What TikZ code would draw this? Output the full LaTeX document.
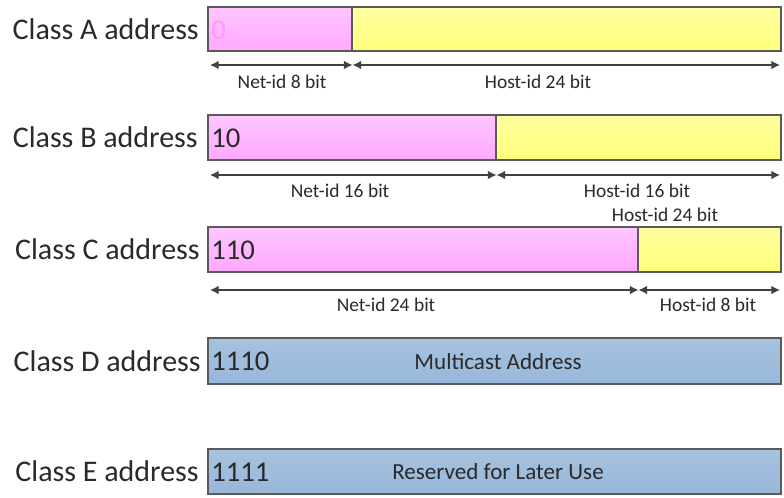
\documentclass[tikz,border=0pt]{standalone}
\usepackage{fontspec}
\setmainfont{Carlito}
\usetikzlibrary{arrows.meta,shadows}
\definecolor{pinktop}{HTML}{FFC6FF}
\definecolor{pinkbot}{HTML}{FFA8FF}
\definecolor{yeltop}{HTML}{FFFFA0}
\definecolor{yelbot}{HTML}{FFFF7C}
\definecolor{bluetop}{HTML}{A6C2DF}
\definecolor{bluebot}{HTML}{98B7D9}
\definecolor{edge}{HTML}{5A5A5A}
\definecolor{arr}{HTML}{404040}
\definecolor{txt}{HTML}{2A2A2A}
\definecolor{zeropink}{HTML}{FF99FF}
\tikzset{
  field/.style={draw=edge, line width=0.9pt, rectangle, inner sep=0pt, outer sep=0pt,
    drop shadow={shadow xshift=0.8pt, shadow yshift=-1pt, opacity=0.2}},
  pinkfield/.style={field, top color=pinktop, bottom color=pinkbot},
  yelfield/.style={field, top color=yeltop, bottom color=yelbot},
  bluefield/.style={field, top color=bluetop, bottom color=bluebot},
  classlbl/.style={anchor=east, inner sep=0pt, text=txt, font=\fontsize{22.5}{26}\selectfont},
  bits/.style={anchor=west, inner sep=0pt, text=txt, font=\fontsize{21.5}{26}\selectfont},
  small/.style={inner sep=0pt, text=txt, font=\fontsize{14.6}{17}\selectfont},
  mid/.style={inner sep=0pt, text=txt, font=\fontsize{17.3}{20}\selectfont},
  dim/.style={draw=arr, line width=1pt, {Latex[length=6.5pt,width=6.5pt]}-{Latex[length=6.5pt,width=6.5pt]}}
}
\begin{document}
\begin{tikzpicture}[x=0.75pt,y=-0.75pt]
\useasboundingbox (0,0) rectangle (784,497);
% Class A
\node[pinkfield, minimum width=108pt, minimum height=33pt, anchor=north west] (a1) at (208,7) {};
\node[yelfield, minimum width=321.75pt, minimum height=33pt, anchor=north west] (a2) at (352,7) {};
\node[classlbl] (la) at (199,29) {Class A address};
\node[bits, text=zeropink] (ba) at (211,30) {0};
\coordinate (a0) at (210,65);
\coordinate (am) at (352.5,65);
\coordinate (ae) at (780,65);
\draw[dim] (a0) -- (am);
\draw[dim] (am) -- (ae);
\node[small] (na) at (282,82) {Net-id 8 bit};
\node[small] (ha) at (538,82) {Host-id 24 bit};
% Class B
\node[pinkfield, minimum width=216pt, minimum height=33.75pt, anchor=north west] (b1) at (208,115) {};
\node[yelfield, minimum width=213.75pt, minimum height=33.75pt, anchor=north west] (b2) at (496,115) {};
\node[classlbl] (lb) at (198,137.5) {Class B address};
\node[bits] (bb) at (211,138) {10};
\coordinate (b0) at (210,175);
\coordinate (bm) at (496.5,175);
\coordinate (be) at (780,175);
\draw[dim] (b0) -- (bm);
\draw[dim] (bm) -- (be);
\node[small] (nb) at (340,191) {Net-id 16 bit};
\node[small] (hb) at (637,191) {Host-id 16 bit};
\node[small] (hb2) at (665,215) {Host-id 24 bit};
% Class C
\node[pinkfield, minimum width=322.5pt, minimum height=33.75pt, anchor=north west] (c1) at (208,227) {};
\node[yelfield, minimum width=107.25pt, minimum height=33.75pt, anchor=north west] (c2) at (638,227) {};
\node[classlbl] (lc) at (200,249.5) {Class C address};
\node[bits] (bc) at (211,250) {110};
\coordinate (c0) at (210,290);
\coordinate (cm) at (638.5,290);
\coordinate (ce) at (780,290);
\draw[dim] (c0) -- (cm);
\draw[dim] (cm) -- (ce);
\node[small] (nc) at (386,305) {Net-id 24 bit};
\node[small] (hc) at (708,305) {Host-id 8 bit};
% Class D
\node[bluefield, minimum width=429.75pt, minimum height=34.5pt, anchor=north west] (d1) at (208,338) {};
\node[classlbl] (ld) at (201,361) {Class D address};
\node[bits] (bd) at (211,361.5) {1110};
\node[mid] (md) at (498,362) {Multicast Address};
% Class E
\node[bluefield, minimum width=429.75pt, minimum height=33.75pt, anchor=north west] (e1) at (208,449) {};
\node[classlbl] (le) at (199,471.5) {Class E address};
\node[bits] (be2) at (211,472) {1111};
\node[mid] (me) at (498,472) {Reserved for Later Use};
\end{tikzpicture}
\end{document}
